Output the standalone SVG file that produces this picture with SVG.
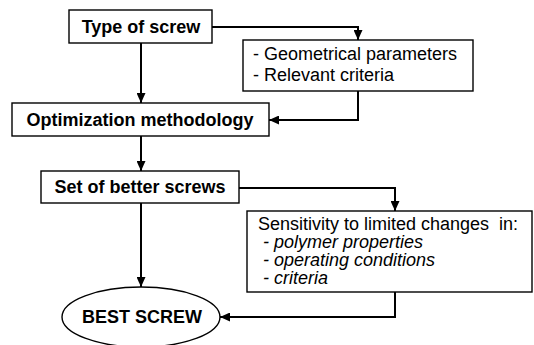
<svg xmlns="http://www.w3.org/2000/svg" width="534" height="345" viewBox="0 0 534 345">
  <style>
    .box { fill: #fff; stroke: #000; stroke-width: 1.4; }
    .title { font-family: "Liberation Sans", Arial, sans-serif; font-size: 18px; font-weight: bold; text-anchor: middle; fill: #000; }
    .note { font-family: "Liberation Sans", Arial, sans-serif; font-size: 18px; fill: #000; }
    .note .it { font-style: italic; }
    .wire { fill: none; stroke: #000; stroke-width: 2; marker-end: url(#head); }
  </style>
  <defs>
    <marker id="head" markerUnits="userSpaceOnUse" markerWidth="10" markerHeight="9" refX="10" refY="4.5" orient="auto">
      <path d="M0,0 L10,4.5 L0,9 z" fill="#000"/>
    </marker>
  </defs>
  <rect width="534" height="345" fill="#fff"/>

  <g id="connectors">
    <path class="wire" d="M141,43 V103"/>
    <path class="wire" d="M212,27 H358 V40"/>
    <path class="wire" d="M358,91 V120 H269"/>
    <path class="wire" d="M141,136 V171"/>
    <path class="wire" d="M239,188 H395 V211"/>
    <path class="wire" d="M395,292 V317 H220"/>
    <path class="wire" d="M141,203 V287"/>
  </g>

  <g id="type-of-screw">
    <rect class="box" x="69" y="10" width="143" height="33"/>
    <text class="title" x="141" y="33">Type of screw</text>
  </g>

  <g id="parameters">
    <rect class="box" x="243" y="40" width="230" height="51"/>
    <text class="note">
      <tspan x="253" y="60">- Geometrical parameters</tspan>
      <tspan x="253" y="81">- Relevant criteria</tspan>
    </text>
  </g>

  <g id="optimization">
    <rect class="box" x="12" y="103" width="257" height="33"/>
    <text class="title" x="140" y="126">Optimization methodology</text>
  </g>

  <g id="better-screws">
    <rect class="box" x="41" y="171" width="198" height="32"/>
    <text class="title" x="140" y="193">Set of better screws</text>
  </g>

  <g id="sensitivity">
    <rect class="box" x="247" y="211" width="285" height="81"/>
    <text class="note"><tspan x="258" y="230" xml:space="preserve">Sensitivity to limited changes  in:</tspan><tspan class="it" x="263" y="248">- polymer properties</tspan><tspan class="it" x="263" y="266">- operating conditions</tspan><tspan class="it" x="263" y="284">- criteria</tspan></text>
  </g>

  <g id="best-screw">
    <ellipse class="box" cx="141" cy="317" rx="79" ry="30"/>
    <text class="title" x="142" y="323">BEST SCREW</text>
  </g>
</svg>
